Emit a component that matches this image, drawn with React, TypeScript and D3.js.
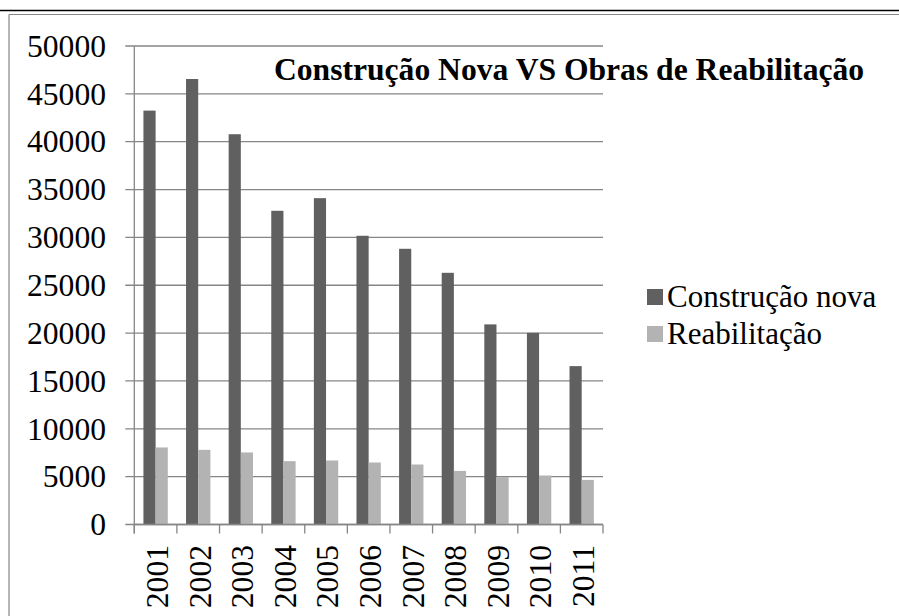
import React from "react";
import { scaleBand, scaleLinear } from "d3";

const years = ["2001","2002","2003","2004","2005","2006","2007","2008","2009","2010","2011"];
const novaValues = [43250, 46550, 40780, 32780, 34100, 30170, 28810, 26300, 20910, 20030, 16550];
const reabValues = [8050, 7800, 7530, 6620, 6690, 6480, 6270, 5600, 4950, 5120, 4660];
const seriesNames = ["Construção nova", "Reabilitação"];
const seriesColors = ["#606060", "#b3b3b3"];
const yTicks = [0, 5000, 10000, 15000, 20000, 25000, 30000, 35000, 40000, 45000, 50000];
const title = "Construção Nova VS Obras de Reabilitação";

const W = 899;
const H = 616;
const FONT = "Liberation Serif, Tinos, Times New Roman, Times, DejaVu Serif, serif";

export default function App() {
  const plotLeft = 134.3;
  const plotRight = 603;
  const plotTop = 46;
  const plotBottom = 524.5;

  const x0 = scaleBand<string>().domain(years).range([plotLeft, plotRight]).padding(0);
  const x1 = scaleBand<string>()
    .domain(seriesNames)
    .range([0, x0.bandwidth()])
    .paddingInner(0)
    .paddingOuter(0.75);
  const y = scaleLinear().domain([0, 50000]).range([plotBottom, plotTop]);

  const series = [novaValues, reabValues];
  const grid = "#868686";
  const txt = { fontFamily: FONT };

  return (
    <div style={{ position: "fixed", left: 0, top: 0 }}>
      <svg width={W} height={H} style={{ display: "block", background: "#fff" }}>
        {/* page rule + chart frame */}
        <line x1={0} x2={W} y1={10.5} y2={10.5} stroke="#000" strokeWidth={1.6} />
        <line x1={9} x2={W} y1={14.5} y2={14.5} stroke={grid} strokeWidth={1.2} />
        <line x1={9} x2={9} y1={14.5} y2={H} stroke={grid} strokeWidth={1.2} />

        {/* gridlines and y ticks */}
        {yTicks.map((t) => (
          <g key={t}>
            <line x1={plotLeft - 9} x2={plotRight} y1={y(t)} y2={y(t)} stroke={grid} strokeWidth={1.3} />
            <text x={106} y={y(t)} dy="0.34em" textAnchor="end" style={txt} fontSize={31.6} fill="#000">
              {t}
            </text>
          </g>
        ))}

        {/* bars */}
        {years.map((yr, i) => (
          <g key={yr} transform={`translate(${x0(yr)},0)`}>
            {seriesNames.map((s, j) => (
              <rect
                key={s}
                x={x1(s)}
                y={y(series[j][i])}
                width={x1.bandwidth()}
                height={plotBottom - y(series[j][i])}
                fill={seriesColors[j]}
              />
            ))}
          </g>
        ))}

        {/* axes */}
        <line x1={plotLeft} x2={plotLeft} y1={plotTop} y2={plotBottom + 9} stroke={grid} strokeWidth={1.3} />
        <line x1={plotLeft} x2={plotRight} y1={plotBottom} y2={plotBottom} stroke={grid} strokeWidth={1.3} />
        {years.concat(["end"]).map((yr, i) => {
          const xx = plotLeft + i * x0.step();
          return <line key={"t" + i} x1={xx} x2={xx} y1={plotBottom} y2={plotBottom + 9} stroke={grid} strokeWidth={1.3} />;
        })}
        {years.map((yr) => (
          <text
            key={"l" + yr}
            transform={`translate(${(x0(yr) as number) + x0.bandwidth() / 2},545) rotate(-90)`}
            dy="0.39em"
            textAnchor="end"
            style={txt}
            fontSize={31.6}
            fill="#000"
          >
            {yr}
          </text>
        ))}

        {/* title */}
        <text x={274} y={80} style={txt} fontWeight="bold" fontSize={31.6} fill="#000">
          {title}
        </text>

        {/* legend */}
        {seriesNames.map((s, j) => (
          <g key={"lg" + s} transform={`translate(0,${297 + j * 37})`}>
            <rect x={647} y={-8} width={16} height={16} fill={seriesColors[j]} />
            <text x={667} y={0} dy="0.33em" style={txt} fontSize={31} fill="#000">
              {s}
            </text>
          </g>
        ))}
      </svg>
    </div>
  );
}
